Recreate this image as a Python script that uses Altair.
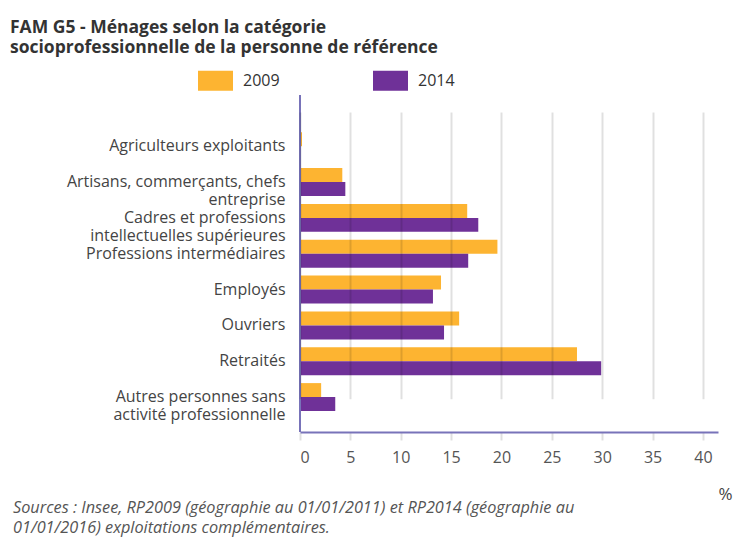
import altair as alt
import pandas as pd

categories = [
    "Agriculteurs exploitants",
    "Artisans, commerçants, chefs|entreprise",
    "Cadres et professions|intellectuelles supérieures",
    "Professions intermédiaires",
    "Employés",
    "Ouvriers",
    "Retraités",
    "Autres personnes sans|activité professionnelle",
]
values_2009 = [0.2, 4.2, 16.6, 19.6, 14.0, 15.8, 27.5, 2.1]
values_2014 = [0.1, 4.5, 17.7, 16.7, 13.2, 14.3, 29.9, 3.5]
years = ["2009", "2014"]
colors = ["#FDB431", "#6F3198"]
x_ticks = [0, 5, 10, 15, 20, 25, 30, 35, 40]

title_lines = ["FAM G5 - Ménages selon la catégorie",
               "socioprofessionnelle de la personne de référence"]
source_text = ("Sources : Insee, RP2009 (géographie au 01/01/2011) et RP2014 (géographie au\n"
               "01/01/2016) exploitations complémentaires.")

rows = []
for c, a, b in zip(categories, values_2009, values_2014):
    rows.append({"cat": c, "year": years[0], "value": a})
    rows.append({"cat": c, "year": years[1], "value": b})
df = pd.DataFrame(rows)

FONT = "Open Sans"
AXIS_BLUE = "#7873B9"

bars = alt.Chart(df).mark_bar().encode(
    y=alt.Y("cat:N", sort=categories,
            scale=alt.Scale(range=[33.3, 320], paddingInner=0.22, paddingOuter=0.11),
            axis=alt.Axis(title=None, labelExpr="split(datum.label, '|')",
                          labelLimit=400, labelFontSize=16, labelColor="#444444",
                          labelFont=FONT, labelPadding=15, ticks=False, grid=False,
                          domain=False, labelLineHeight=18)),
    yOffset=alt.YOffset("year:N", sort=years),
    x=alt.X("value:Q", scale=alt.Scale(domain=[0, 41.5], nice=False),
            axis=alt.Axis(values=x_ticks, title="%", titleX=425, titleY=62,
                          titleBaseline="middle", titleAlign="center",
                          titleFontWeight="normal", titleFontSize=17, titleColor="#444444",
                          titleFont=FONT,
                          labelFontSize=16, labelColor="#555555", labelFont=FONT,
                          labelPadding=9, tickSize=8, tickColor="#000000", tickOpacity=0.12,
                          tickWidth=2, grid=True, gridColor="#000000", gridOpacity=0.12,
                          gridWidth=2, domainColor=AXIS_BLUE, domainWidth=2, zindex=1)),
    color=alt.Color("year:N", sort=years, scale=alt.Scale(domain=years, range=colors),
                    legend=alt.Legend(title=None, orient="none", direction="horizontal",
                                      legendX=-102, legendY=-32,
                                      symbolType="M-1,-0.57H1V0.57H-1Z", symbolSize=1225,
                                      symbolStrokeWidth=0, symbolOpacity=1,
                                      labelFontSize=16, labelFont=FONT, labelColor="#333333",
                                      labelOffset=10, columnPadding=93, padding=0)),
)

yline = alt.Chart(pd.DataFrame({"k": [0]})).mark_rule(
    color=AXIS_BLUE, strokeWidth=2
).encode(x=alt.value(0), y=alt.value(0), y2=alt.value(337))

src = alt.Chart(pd.DataFrame({"t": [source_text]})).mark_text(
    align="left", baseline="alphabetic", font=FONT, fontStyle="italic",
    fontSize=16.3, color="#555555", lineBreak="\n", lineHeight=20,
).encode(text="t:N", x=alt.value(-287), y=alt.value(418))

chart = alt.layer(bars, yline, src).properties(
    width=418, height=337,
    padding={"left": 300, "top": 95, "right": 16, "bottom": 110},
    autosize=alt.AutoSizeParams(type="none"),
    title=alt.TitleParams(text=title_lines, anchor="start", frame="group",
                          font=FONT, fontSize=17.5, fontWeight="bold", color="#333333",
                          dx=-290, dy=-3, lineHeight=20),
).configure_view(stroke=None)

chart.save("out.html", embed_options={"renderer": "svg", "actions": False})
